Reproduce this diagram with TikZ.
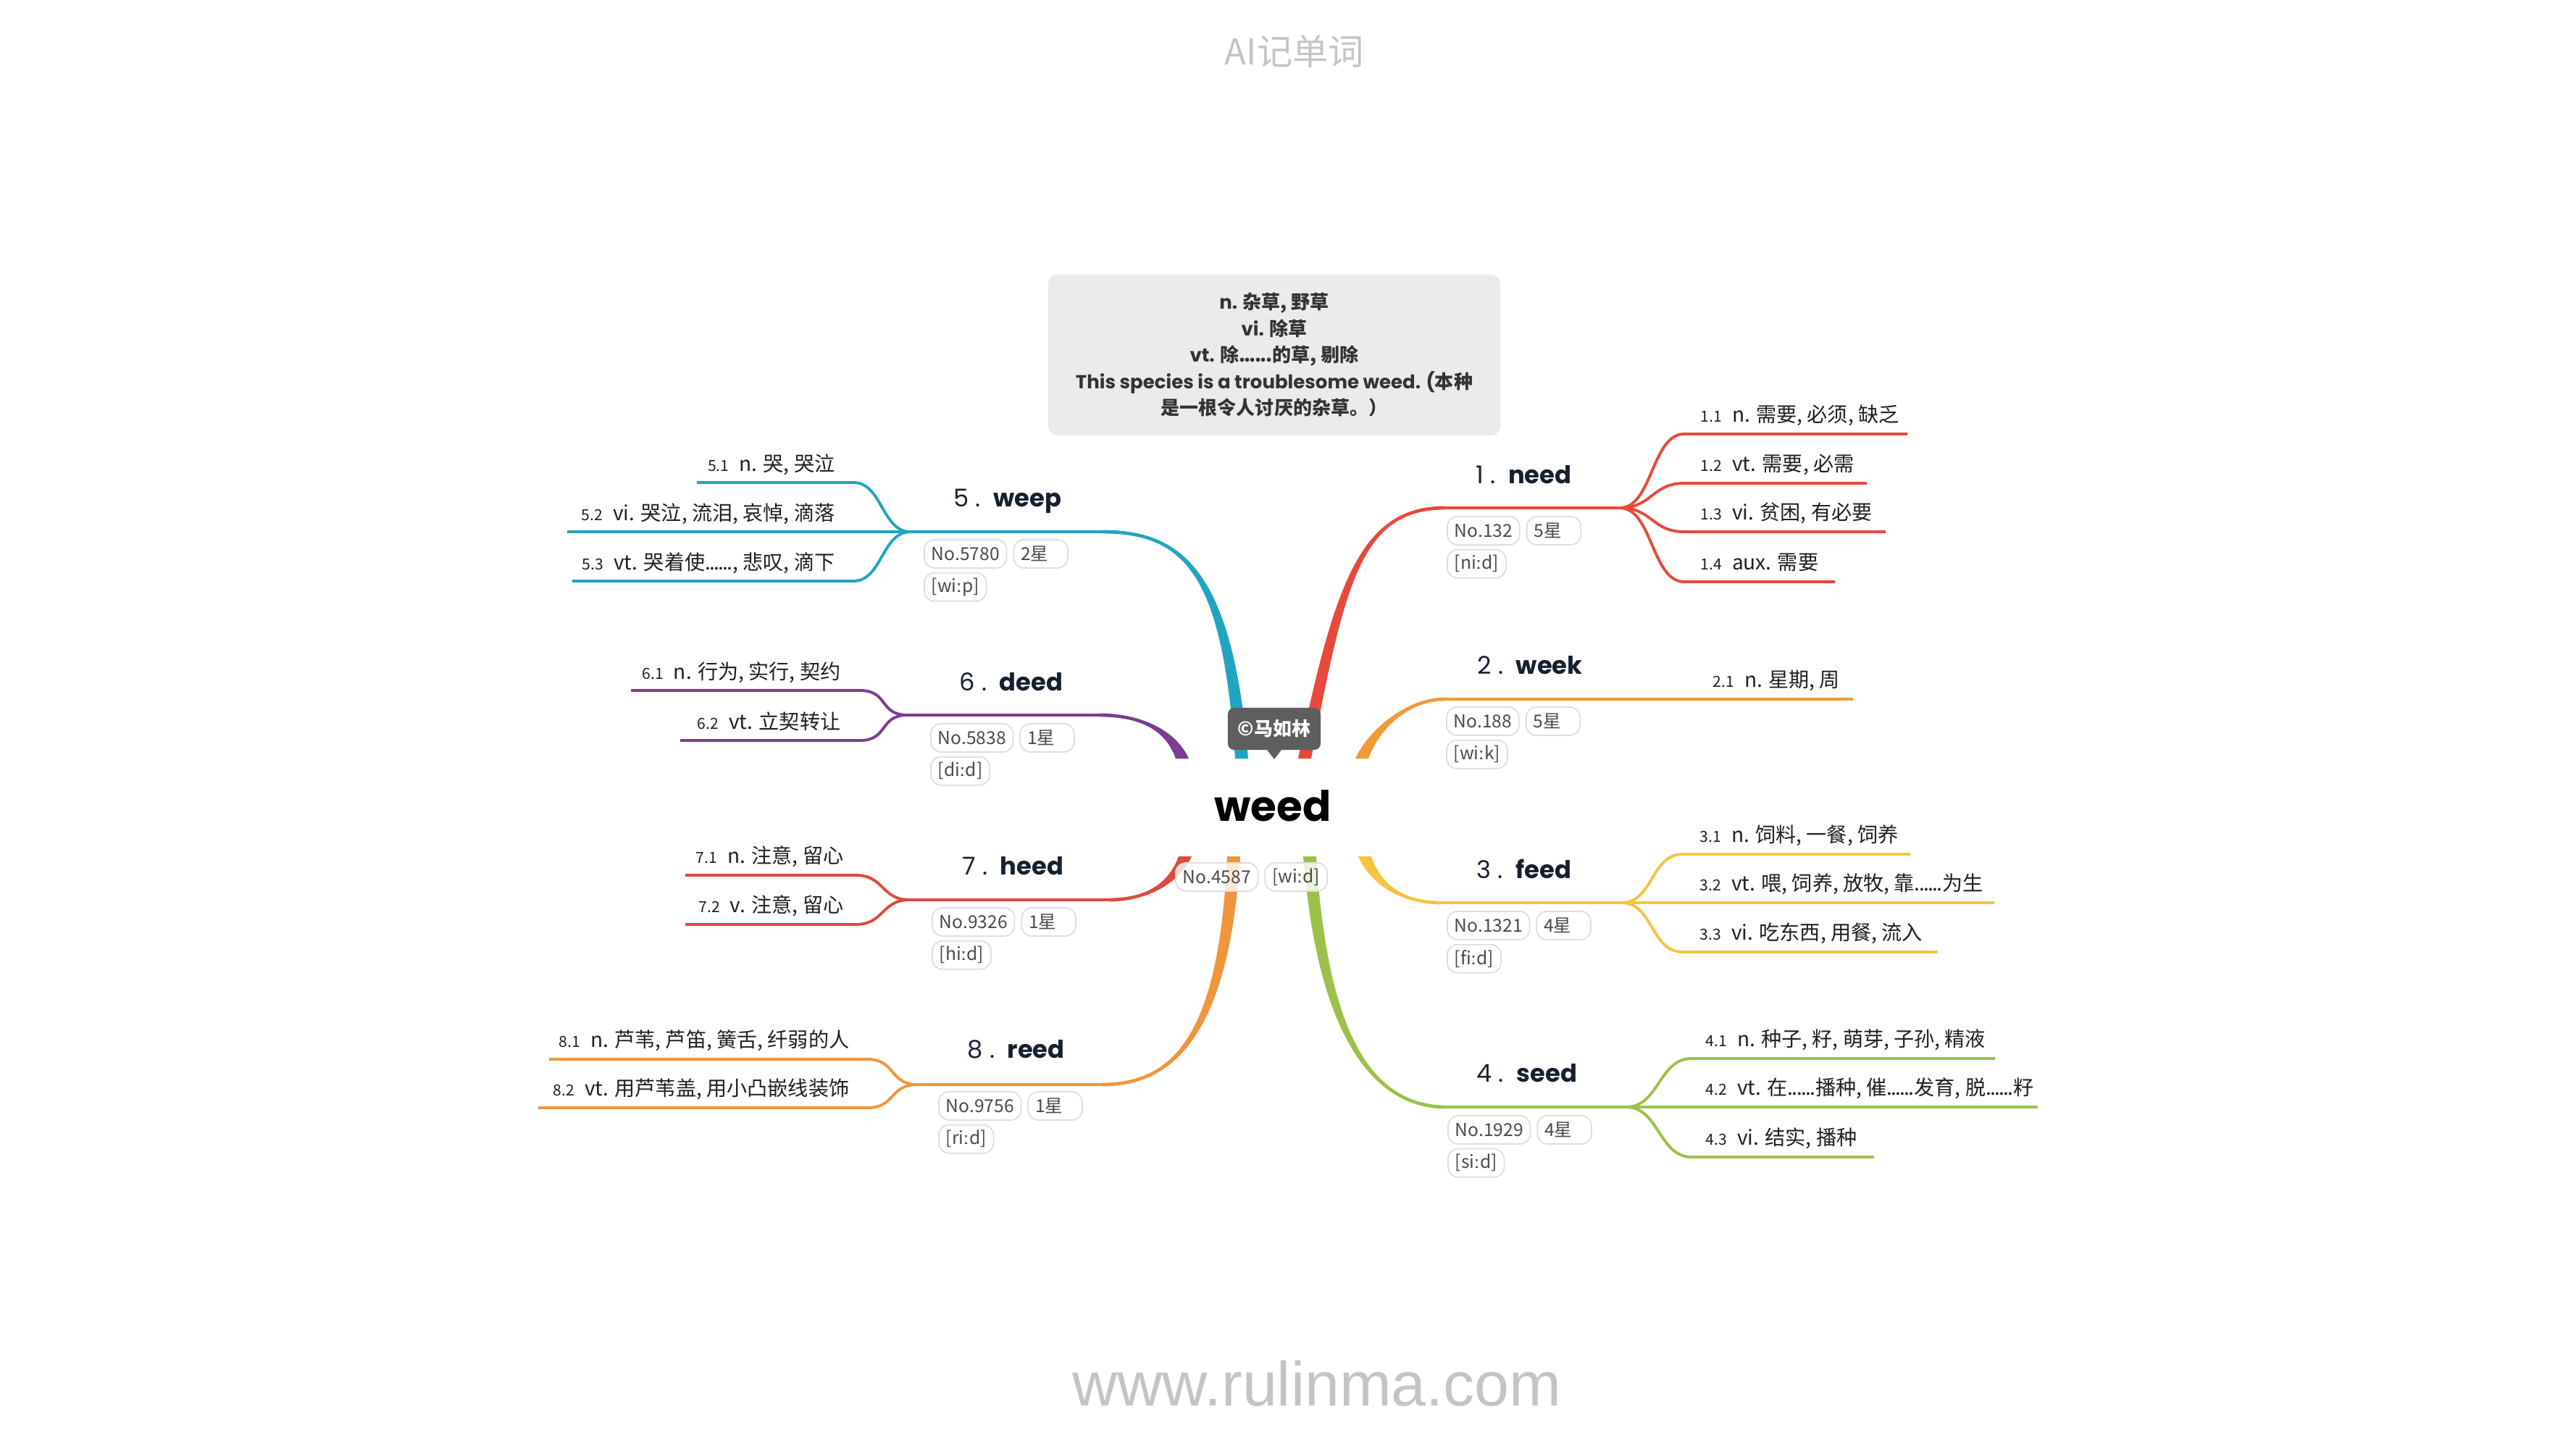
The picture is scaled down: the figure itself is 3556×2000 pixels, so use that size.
\documentclass[tikz,border=0pt]{standalone}
\usepackage{fontspec}
\usepackage{tikz}
\usetikzlibrary{calc,positioning}
\setmainfont{Poppins}
\newfontfamily\cjk{Noto Sans CJK SC}
\newfontfamily\ipa{DejaVu Sans}
\newfontfamily\webfont{Liberation Sans}

\definecolor{needc}{HTML}{E8493B}
\definecolor{weekc}{HTML}{F29A36}
\definecolor{feedc}{HTML}{F5C443}
\definecolor{seedc}{HTML}{9BC14A}
\definecolor{weepc}{HTML}{1FA5C2}
\definecolor{deedc}{HTML}{7D3B93}
\definecolor{heedc}{HTML}{DF4A3C}
\definecolor{reedc}{HTML}{F0963A}
\definecolor{inkc}{HTML}{16202E}
\definecolor{pillc}{HTML}{DDDDDD}
\definecolor{pilltext}{HTML}{4A4A4A}
\definecolor{boxc}{HTML}{EBEBEB}
\definecolor{tagc}{HTML}{5E5E5E}
\definecolor{markc}{HTML}{C4C4C4}

% tapered main branch: colour, root, control 1, control 2, end, side
\newcommand{\limb}[6]{%
  \fill[#1] ($(#2)+(-9,0)$) .. controls ($(#3)+(-7,0)$) and ($(#4)+(0,{(#6)*2.4})$) .. ($(#5)+(0,{(#6)*2.4})$)
    -- ($(#5)+(0,{-(#6)*2.4})$) .. controls ($(#4)+(0,{-(#6)*2.4})$) and ($(#3)+(7,0)$) .. ($(#2)+(9,0)$) -- cycle;}
\newcommand{\sn}[1]{{\fontsize{6}{7}\selectfont#1}\hspace{4pt}}
\newcommand{\lng}{{\ipa\fontsize{6.5}{7}\selectfont ː}}
\newcommand{\tdots}{.\kern-.5pt.\kern-.5pt.\kern-.5pt.\kern-.5pt.\kern-.5pt.}

\tikzset{
  trunk/.style={line width=1.35pt},
  twig/.style={line width=1.1pt},
  headword/.style={font=\fontsize{9.6}{11}\selectfont, text=inkc, inner sep=0pt, anchor=base west},
  sense/.style={font=\cjk\fontsize{8}{9}\selectfont, text=black!88, inner sep=0pt},
  pill/.style={draw=pillc, line width=0.5pt, fill=white, rounded corners=4pt, minimum height=0.39cm,
    inner xsep=2.8pt, inner ysep=0pt, font=\cjk\fontsize{7}{8}\selectfont, text=pilltext, anchor=north west},
  starpill/.style={pill, text width=0.55cm, align=left},
}

\begin{document}
\begin{tikzpicture}[x=0.01cm, y=-0.01cm]
	\useasboundingbox (0,0) rectangle (3556,2000);

	\node[font=\cjk\fontsize{14}{16}\selectfont, text=markc] (brand) at (1787,71) {AI记单词};
	\node[font=\webfont\fontsize{24.5}{28}\selectfont, text=markc, anchor=base] (site) at (1818,1940) {www.rulinma.com};

	\node[fill=boxc, rounded corners=3.7pt, minimum width=6.24cm, minimum height=2.22cm, align=center,
		font=\fontsize{7.4}{10.4}\selectfont\bfseries, text=black!80] (defn) at (1759,490)
		{n. {\cjk 杂草, 野草}\\ vi. {\cjk 除草}\\ vt. {\cjk 除\tdots 的草, 剔除}\\
		 This species is a troublesome weed. ({\cjk 本种}\\ {\cjk 是一根令人讨厌的杂草。）}};

	% 1 need
	\coordinate (r1) at (1801,1047);
	\coordinate (h1) at (1995,701);
	\coordinate (f1) at (2236,701);
	\limb{needc}{r1}{1850,800}{1880,701}{h1}{-1}
	\draw [trunk, needc] (h1) -- (f1);
	\foreach \y/\e/\nr/\txt [count=\i] in {599/2633/1.1/{n. 需要, 必须, 缺乏}, 667/2577/1.2/{vt. 需要, 必需},
			734/2603/1.3/{vi. 贫困, 有必要}, 803/2533/1.4/{aux. 需要}} {
		\coordinate (a1\i) at (2325,\y);
		\coordinate (b1\i) at (\e,\y);
		\draw [twig, needc] (f1) .. controls +(45,0) and +(-45,0) .. (a1\i) -- (b1\i);
		\node [sense, anchor=base west] (m1\i) at (2347,\y-17) {\sn{\nr}\txt};
	}

	% 2 week
	\coordinate (r2) at (1880,1047);
	\coordinate (h2) at (1994,965);
	\coordinate (b21) at (2558,965);
	\limb{weekc}{r2}{1897,1005}{1945,965}{h2}{-1}
	\draw [trunk, weekc] (h2) -- (b21);
	\node [sense, anchor=base west] (m21) at (2364,948) {\sn{2.1}n. 星期, 周};

	% 3 feed
	\coordinate (r3) at (1884,1182);
	\coordinate (h3) at (1989,1246);
	\coordinate (f3) at (2238,1246);
	\limb{feedc}{r3}{1902,1228}{1945,1246}{h3}{1}
	\draw [trunk, feedc] (h3) -- (f3);
	\foreach \y/\e/\nr/\txt [count=\i] in {1179/2637/3.1/{n. 饲料, 一餐, 饲养}, 1246/2753/3.2/{vt. 喂, 饲养, 放牧, 靠\tdots 为生},
			1314/2675/3.3/{vi. 吃东西, 用餐, 流入}} {
		\coordinate (a3\i) at (2323,\y);
		\coordinate (b3\i) at (\e,\y);
		\draw [twig, feedc] (f3) .. controls +(45,0) and +(-45,0) .. (a3\i) -- (b3\i);
		\node [sense, anchor=base west] (m3\i) at (2346,\y-17) {\sn{\nr}\txt};
	}

	% 4 seed
	\coordinate (r4) at (1808,1182);
	\coordinate (h4) at (1997,1528);
	\coordinate (f4) at (2245,1528);
	\limb{seedc}{r4}{1825,1420}{1890,1528}{h4}{1}
	\draw [trunk, seedc] (h4) -- (f4);
	\foreach \y/\e/\nr/\txt [count=\i] in {1461/2754/4.1/{n. 种子, 籽, 萌芽, 子孙, 精液},
			1528/2813/4.2/{vt. 在\tdots 播种, 催\tdots 发育, 脱\tdots 籽}, 1597/2587/4.3/{vi. 结实, 播种}} {
		\coordinate (a4\i) at (2335,\y);
		\coordinate (b4\i) at (\e,\y);
		\draw [twig, seedc] (f4) .. controls +(45,0) and +(-45,0) .. (a4\i) -- (b4\i);
		\node [sense, anchor=base west] (m4\i) at (2354,\y-17) {\sn{\nr}\txt};
	}

	% 5 weep
	\coordinate (r5) at (1714,1047);
	\coordinate (h5) at (1523,734);
	\coordinate (f5) at (1257,734);
	\limb{weepc}{r5}{1695,800}{1640,734}{h5}{1}
	\draw [trunk, weepc] (h5) -- (f5);
	\foreach \y/\e/\nr/\txt [count=\i] in {666/962/5.1/{n. 哭, 哭泣}, 734/783/5.2/{vi. 哭泣, 流泪, 哀悼, 滴落},
			802/790/5.3/{vt. 哭着使\tdots, 悲叹, 滴下}} {
		\coordinate (a5\i) at (1178,\y);
		\coordinate (b5\i) at (\e,\y);
		\draw [twig, weepc] (f5) .. controls +(-40,0) and +(40,0) .. (a5\i) -- (b5\i);
		\node [sense, anchor=base east] (m5\i) at (1153,\y-16) {\sn{\nr}\txt};
	}

	% 6 deed
	\coordinate (r6) at (1632,1047);
	\coordinate (h6) at (1518,987);
	\coordinate (f6) at (1253,987);
	\limb{deedc}{r6}{1615,1005}{1570,987}{h6}{1}
	\draw [trunk, deedc] (h6) -- (f6);
	\foreach \y/\e/\nr/\txt [count=\i] in {953/871/6.1/{n. 行为, 实行, 契约}, 1022/939/6.2/{vt. 立契转让}} {
		\coordinate (a6\i) at (1187,\y);
		\coordinate (b6\i) at (\e,\y);
		\draw [twig, deedc] (f6) .. controls +(-40,0) and +(40,0) .. (a6\i) -- (b6\i);
		\node [sense, anchor=base east] (m6\i) at (1161,\y-16) {\sn{\nr}\txt};
	}

	% 7 heed
	\coordinate (r7) at (1636,1182);
	\coordinate (h7) at (1531,1242);
	\coordinate (f7) at (1256,1242);
	\limb{heedc}{r7}{1618,1225}{1575,1242}{h7}{-1}
	\draw [trunk, heedc] (h7) -- (f7);
	\foreach \y/\e/\nr/\txt [count=\i] in {1208/946/7.1/{n. 注意, 留心}, 1276/946/7.2/{v. 注意, 留心}} {
		\coordinate (a7\i) at (1181,\y);
		\coordinate (b7\i) at (\e,\y);
		\draw [twig, heedc] (f7) .. controls +(-40,0) and +(40,0) .. (a7\i) -- (b7\i);
		\node [sense, anchor=base east] (m7\i) at (1165,\y-17) {\sn{\nr}\txt};
	}

	% 8 reed
	\coordinate (r8) at (1703,1182);
	\coordinate (h8) at (1522,1497);
	\coordinate (f8) at (1267,1497);
	\limb{reedc}{r8}{1690,1420}{1625,1497}{h8}{-1}
	\draw [trunk, reedc] (h8) -- (f8);
	\foreach \y/\e/\nr/\txt [count=\i] in {1462/758/8.1/{n. 芦苇, 芦笛, 簧舌, 纤弱的人}, 1529/743/8.2/{vt. 用芦苇盖, 用小凸嵌线装饰}} {
		\coordinate (a8\i) at (1197,\y);
		\coordinate (b8\i) at (\e,\y);
		\draw [twig, reedc] (f8) .. controls +(-40,0) and +(40,0) .. (a8\i) -- (b8\i);
		\node [sense, anchor=base east] (m8\i) at (1173,\y-17) {\sn{\nr}\txt};
	}

	% headwords
	\node [headword] (w1) at (2037,667) {1 .\hspace{5pt}\textbf{need}};
	\node [headword] (w2) at (2039,930) {2 .\hspace{5pt}\textbf{week}};
	\node [headword] (w3) at (2038,1212) {3 .\hspace{5pt}\textbf{feed}};
	\node [headword] (w4) at (2038,1493) {4 .\hspace{5pt}\textbf{seed}};
	\node [headword] (w5) at (1316,699) {5 .\hspace{5pt}\textbf{weep}};
	\node [headword] (w6) at (1324,953) {6 .\hspace{5pt}\textbf{deed}};
	\node [headword] (w7) at (1328,1207) {7 .\hspace{5pt}\textbf{heed}};
	\node [headword] (w8) at (1335,1460) {8 .\hspace{5pt}\textbf{reed}};

	% rank, stars and sound
	\foreach \k/\x/\y/\no/\st/\ph in {1/1997/712/132/5/{ni\lng d}, 2/1996/975/188/5/{wi\lng k}, 3/1997/1257/1321/4/{fi\lng d},
			4/1998/1539/1929/4/{si\lng d}, 5/1275/744/5780/2/{wi\lng p}, 6/1284/998/5838/1/{di\lng d},
			7/1286/1252/9326/1/{hi\lng d}, 8/1295/1506/9756/1/{ri\lng d}} {
		\node [pill] (no\k) at (\x,\y) {No.\no};
		\node [starpill, right=0.08cm of no\k] (st\k) {\st 星};
		\node [pill, below=0.05cm of no\k.south west, anchor=north west] (ph\k) {[\ph]};
	}

	% centre
	\node [font=\fontsize{16.5}{18}\selectfont\bfseries, text=black, anchor=base] (weed) at (1757,1133) {weed};
	\node [pill, fill opacity=0.8, text opacity=1] (no0) at (1622,1190) {No.4587};
	\node [pill, fill opacity=0.8, text opacity=1, right=0.08cm of no0] (ph0) {[wi\lng d]};

	\node [fill=tagc, rounded corners=2.5pt, minimum width=1.28cm, minimum height=0.58cm,
		font=\cjk\fontsize{7.4}{8}\selectfont\bfseries, text=white] (tag) at (1759,1006) {©马如林};
	\coordinate (tip) at (1759,1048);
	\fill [tagc] ([xshift=-0.11cm, yshift=0.02cm]tag.south) -- (tip) -- ([xshift=0.11cm, yshift=0.02cm]tag.south) -- cycle;
\end{tikzpicture}
\end{document}
